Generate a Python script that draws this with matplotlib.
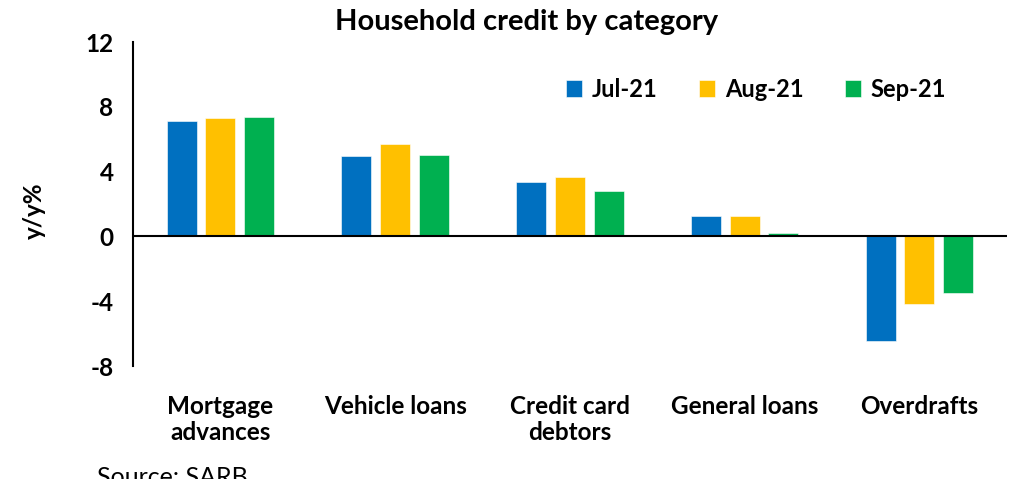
import numpy as np
import matplotlib
matplotlib.use("Agg")
import matplotlib.pyplot as plt

categories = ["Mortgage\nadvances", "Vehicle loans", "Credit card\ndebtors", "General loans", "Overdrafts"]
series_names = ["Jul-21", "Aug-21", "Sep-21"]
jul_21 = [7.14, 4.97, 3.38, 1.29, -6.48]
aug_21 = [7.32, 5.72, 3.65, 1.23, -4.16]
sep_21 = [7.40, 5.00, 2.83, 0.18, -3.50]
colors = ["#0070C0", "#FFC000", "#00B050"]
yticks = [-8, -4, 0, 4, 8, 12]

plt.rcParams["font.family"] = ["Lato", "DejaVu Sans"]

fig = plt.figure(figsize=(10.2, 4.79), dpi=100)
ax = fig.add_axes([0.1304, 0.2359, 0.8566, 0.6764])

x = np.arange(len(categories))
step, width = 0.222, 0.172
for k, (vals, name) in enumerate(zip([jul_21, aug_21, sep_21], series_names)):
    ax.bar(x + (k - 1) * step, vals, width, color=colors[k], label=name,
           edgecolor="white", linewidth=0.4)

ax.set_xlim(-0.5, len(categories) - 0.5)
ax.set_ylim(-8, 12)
ax.set_yticks(yticks)
ax.set_yticklabels([str(v) for v in yticks], fontsize=17.5, fontweight="bold")
ax.set_xticks(x)
ax.set_xticklabels(categories, fontsize=17.5, fontweight="bold", linespacing=1.15, va="top")
ax.tick_params(axis="both", length=0)
ax.tick_params(axis="x", pad=21)
ax.tick_params(axis="y", pad=14)
ax.axhline(0, color="black", lw=1.5, zorder=3)
for s in ["top", "right", "bottom"]:
    ax.spines[s].set_visible(False)
ax.spines["left"].set_linewidth(1.5)

ax.set_ylabel("y/y%", fontsize=17.5, fontweight="bold")
ax.yaxis.set_label_coords(-0.1, 0.48)
ax.set_title("Household credit by category", fontsize=21, fontweight="bold", pad=9, x=0.45)

ax.legend(loc="upper right", bbox_to_anchor=(0.955, 0.955), ncol=3, frameon=False,
          prop=dict(size=17, weight="bold"), handlelength=0.7, handleheight=0.7,
          handletextpad=0.4, columnspacing=1.75)

fig.text(0.095, 0.027, "Source: SARB", fontsize=18, va="top")
fig.savefig("out.png", dpi=100)
